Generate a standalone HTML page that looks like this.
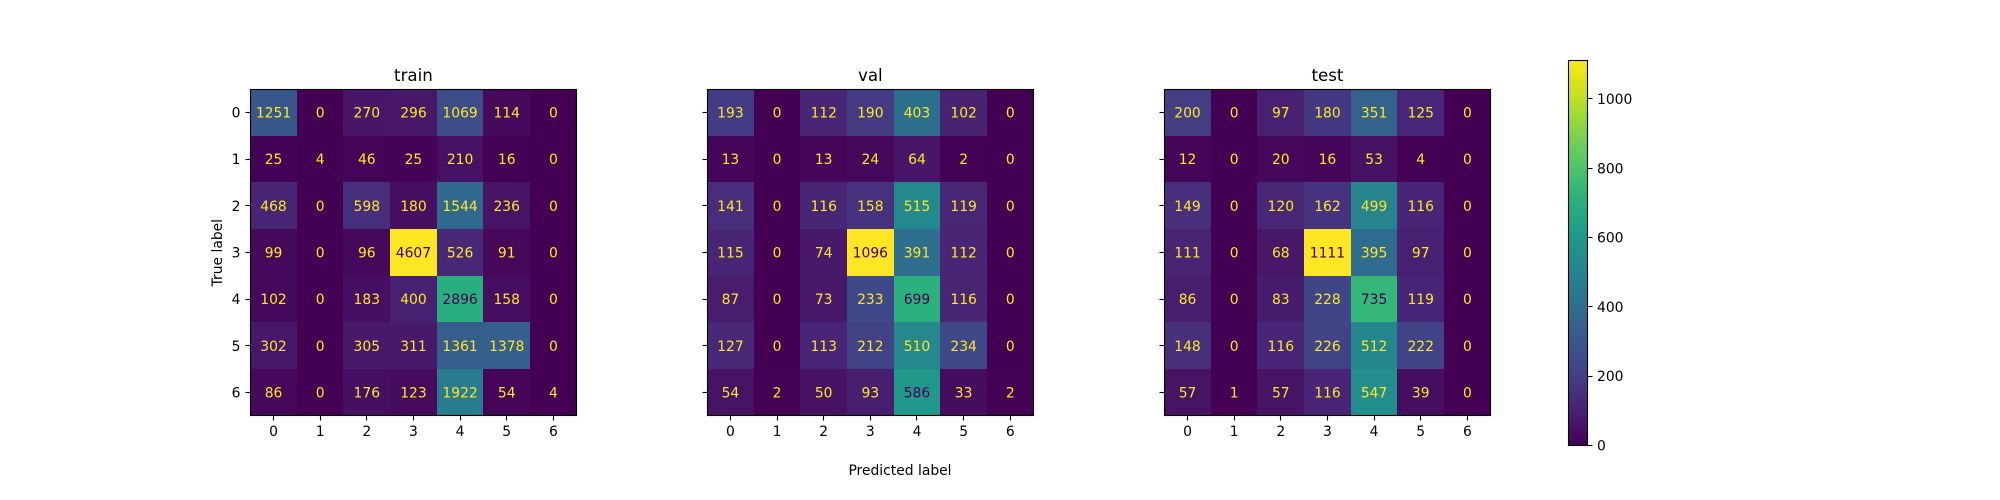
<!DOCTYPE html>
<html lang="en">
<head>
<meta charset="utf-8">
<title>Confusion matrices</title>
<style>
  html, body { margin: 0; padding: 0; background: #ffffff; }
  svg { display: block; }
  text { font-family: "DejaVu Sans", "Liberation Sans", sans-serif; fill: #000000; }
</style>
</head>
<body>
<svg id="chart" xmlns="http://www.w3.org/2000/svg" width="2000" height="500" viewBox="0 0 2000 500">
  <rect x="0" y="0" width="2000" height="500" fill="#ffffff"/>
  <defs>
    <linearGradient id="viridis-gradient" x1="0" y1="1" x2="0" y2="0"></linearGradient>
  </defs>
  <text x="0" y="0" font-size="13.89" text-anchor="middle" transform="translate(222 252.7) rotate(-90)">True label</text>
  <text x="900" y="475" font-size="13.89" text-anchor="middle">Predicted label</text>
</svg>
<script>
const categories = ["0", "1", "2", "3", "4", "5", "6"];
const panelNames = ["train", "val", "test"];
const trainValues = [
  [1251, 0, 270, 296, 1069, 114, 0],
  [25, 4, 46, 25, 210, 16, 0],
  [468, 0, 598, 180, 1544, 236, 0],
  [99, 0, 96, 4607, 526, 91, 0],
  [102, 0, 183, 400, 2896, 158, 0],
  [302, 0, 305, 311, 1361, 1378, 0],
  [86, 0, 176, 123, 1922, 54, 4]
];
const valValues = [
  [193, 0, 112, 190, 403, 102, 0],
  [13, 0, 13, 24, 64, 2, 0],
  [141, 0, 116, 158, 515, 119, 0],
  [115, 0, 74, 1096, 391, 112, 0],
  [87, 0, 73, 233, 699, 116, 0],
  [127, 0, 113, 212, 510, 234, 0],
  [54, 2, 50, 93, 586, 33, 2]
];
const testValues = [
  [200, 0, 97, 180, 351, 125, 0],
  [12, 0, 20, 16, 53, 4, 0],
  [149, 0, 120, 162, 499, 116, 0],
  [111, 0, 68, 1111, 395, 97, 0],
  [86, 0, 83, 228, 735, 119, 0],
  [148, 0, 116, 226, 512, 222, 0],
  [57, 1, 57, 116, 547, 39, 0]
];
const colorbarTicks = [0, 200, 400, 600, 800, 1000];
const viridisStops = ["#440154","#471365","#482475","#463480","#414487","#3b528b","#355f8d","#2f6c8e","#2a788e","#25848e","#21918c","#1e9c89","#22a884","#2fb47c","#44bf70","#5ec962","#7ad151","#9bd93c","#bddf26","#dfe318","#fde725"];

const SVG_NS = "http://www.w3.org/2000/svg";
const svg = document.getElementById("chart");
const panelValues = [trainValues, valValues, testValues];
const panelLefts = [250.2, 707.1, 1164.2];
const axisTop = 89.2;
const cellSize = 46.64;
const cmapLight = "#fde725";
const cmapDark = "#440154";

function hexToRgb(hex) {
  return [parseInt(hex.slice(1, 3), 16), parseInt(hex.slice(3, 5), 16), parseInt(hex.slice(5, 7), 16)];
}
function viridis(t) {
  const clamped = Math.max(0, Math.min(1, t));
  const pos = clamped * (viridisStops.length - 1);
  const i = Math.min(Math.floor(pos), viridisStops.length - 2);
  const f = pos - i;
  const a = hexToRgb(viridisStops[i]);
  const b = hexToRgb(viridisStops[i + 1]);
  return "rgb(" + a.map(function (v, k) { return Math.round(v + (b[k] - v) * f); }).join(",") + ")";
}
function xEdge(left, i) { return Math.round(left + i * cellSize); }
function yEdge(i) { return Math.round(axisTop + i * cellSize); }
function xCenter(left, i) { return left + (i + 0.5) * cellSize; }
function yCenter(i) { return axisTop + (i + 0.5) * cellSize; }
function crisp(v) { return Math.floor(v) + 0.5; }
function addAttrs(el, attrs) {
  Object.keys(attrs).forEach(function (k) { el.setAttribute(k, attrs[k]); });
}

panelValues.forEach(function (matrix, p) {
  const left = panelLefts[p];
  const vmax = Math.max.apply(null, matrix.map(function (r) { return Math.max.apply(null, r); }));
  const vmin = Math.min.apply(null, matrix.map(function (r) { return Math.min.apply(null, r); }));
  const mid = (vmax + vmin) / 2;

  const group = document.createElementNS(SVG_NS, "g");
  
  
  svg.appendChild(group);

  matrix.forEach(function (row, r) {
    row.forEach(function (value, c) {
      const cell = document.createElementNS(SVG_NS, "rect");
      
      
      const x0 = xEdge(left, c);
      const y0 = yEdge(r);
      addAttrs(cell, {
        x: x0, y: y0,
        width: xEdge(left, c + 1) - x0,
        height: yEdge(r + 1) - y0,
        fill: viridis((value - vmin) / (vmax - vmin)),
        "shape-rendering": "crispEdges"
      });
      group.appendChild(cell);
    });
  });

  matrix.forEach(function (row, r) {
    row.forEach(function (value, c) {
      const label = document.createElementNS(SVG_NS, "text");
      
      
      addAttrs(label, {
        x: xCenter(left, c),
        y: yCenter(r) + 5.05,
        "font-size": 13.89,
        "text-anchor": "middle",
        style: "fill:" + (value >= mid ? cmapDark : cmapLight)
      });
      label.textContent = String(value);
      group.appendChild(label);
    });
  });

  const frame = document.createElementNS(SVG_NS, "rect");
  
  
  const fx0 = crisp(left);
  const fy0 = crisp(axisTop);
  addAttrs(frame, {
    x: fx0, y: fy0,
    width: crisp(left + 7 * cellSize) - fx0,
    height: crisp(axisTop + 7 * cellSize) - fy0,
    fill: "none", stroke: "#000000", "stroke-width": 1.11
  });
  group.appendChild(frame);

  const title = document.createElementNS(SVG_NS, "text");
  
  
  addAttrs(title, { x: left + 3.5 * cellSize, y: 81, "font-size": 16.67, "text-anchor": "middle" });
  title.textContent = panelNames[p];
  group.appendChild(title);

  categories.forEach(function (cat, i) {
    const xt = crisp(xCenter(left, i));
    const xb = crisp(axisTop + 7 * cellSize);
    const xTick = document.createElementNS(SVG_NS, "line");
    
    
    addAttrs(xTick, { x1: xt, x2: xt, y1: xb, y2: xb + 5, stroke: "#000000", "stroke-width": 1.11 });
    group.appendChild(xTick);

    const xLabel = document.createElementNS(SVG_NS, "text");
    
    
    addAttrs(xLabel, { x: xCenter(left, i), y: 436, "font-size": 13.89, "text-anchor": "middle" });
    xLabel.textContent = cat;
    group.appendChild(xLabel);

    const yt = crisp(yCenter(i));
    const yTick = document.createElementNS(SVG_NS, "line");
    
    
    addAttrs(yTick, { x1: fx0 - 5, x2: fx0, y1: yt, y2: yt, stroke: "#000000", "stroke-width": 1.11 });
    group.appendChild(yTick);

    if (p === 0) {
      const yLabel = document.createElementNS(SVG_NS, "text");
      
      
      addAttrs(yLabel, { x: 240.5, y: yCenter(i) + 5.05, "font-size": 13.89, "text-anchor": "end" });
      yLabel.textContent = cat;
      group.appendChild(yLabel);
    }
  });
});

/* Colorbar: scaled to the last panel's data range */
const cbMax = Math.max.apply(null, testValues.map(function (r) { return Math.max.apply(null, r); }));
const cbLeft = 1568.5;
const cbRight = 1587.5;
const cbTop = 60.5;
const cbBottom = 445.5;
function cbY(v) { return cbBottom - (v / cbMax) * (cbBottom - cbTop); }

const gradient = document.getElementById("viridis-gradient");
viridisStops.forEach(function (color, i) {
  const stop = document.createElementNS(SVG_NS, "stop");
  stop.setAttribute("offset", String(i / (viridisStops.length - 1)));
  stop.setAttribute("stop-color", color);
  gradient.appendChild(stop);
});

const cbGroup = document.createElementNS(SVG_NS, "g");


svg.appendChild(cbGroup);

const cbRamp = document.createElementNS(SVG_NS, "rect");


addAttrs(cbRamp, { x: cbLeft, y: cbTop, width: cbRight - cbLeft, height: cbBottom - cbTop, fill: "url(#viridis-gradient)", stroke: "#000000", "stroke-width": 1.11 });
cbGroup.appendChild(cbRamp);

colorbarTicks.forEach(function (v) {
  const y = crisp(cbY(v));
  const tick = document.createElementNS(SVG_NS, "line");
  
  
  addAttrs(tick, { x1: cbRight, x2: cbRight + 5, y1: y, y2: y, stroke: "#000000", "stroke-width": 1.11 });
  cbGroup.appendChild(tick);

  const label = document.createElementNS(SVG_NS, "text");
  
  
  addAttrs(label, { x: 1597, y: cbY(v) + 5.05, "font-size": 13.89 });
  label.textContent = String(v);
  cbGroup.appendChild(label);
});
</script>
</body>
</html>
